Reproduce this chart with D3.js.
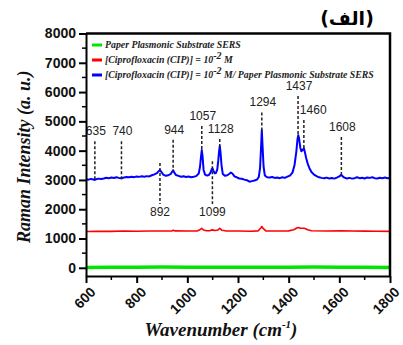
<!DOCTYPE html>
<html>
<head>
<meta charset="utf-8">
<script src="https://cdn.jsdelivr.net/npm/d3@7"></script>
<style>
  body { margin: 0; background: #fff; }
  svg { display: block; }
</style>
</head>
<body>
<div id="chart"></div>
<script>
// series: [wavenumber, intensity]
const paperSers = [
  [600, 10], [700, 15], [800, 20], [900, 25], [1000, 20], [1100, 15], [1200, 18],
  [1300, 20], [1400, 22], [1500, 28], [1600, 20], [1700, 15], [1800, 12]
];

const cipOnly = [
  [600, 1240], [650, 1250], [700, 1245], [750, 1255], [800, 1250], [850, 1255], [900, 1258],
  [940, 1262], [944, 1285], [950, 1260], [1000, 1255], [1040, 1262], [1050, 1300], [1057, 1345],
  [1064, 1290], [1075, 1265], [1090, 1270], [1099, 1295], [1108, 1275], [1120, 1290], [1128, 1345],
  [1136, 1285], [1150, 1262], [1200, 1255], [1250, 1250], [1280, 1262], [1290, 1360], [1294, 1410],
  [1298, 1355], [1310, 1262], [1350, 1255], [1400, 1260], [1420, 1300], [1432, 1360], [1438, 1375],
  [1446, 1350], [1455, 1352], [1462, 1350], [1475, 1300], [1490, 1265], [1550, 1255], [1608, 1262],
  [1650, 1255], [1700, 1252], [1750, 1248], [1800, 1245]
];

const cipOnSers = [
  [600, 3020], [610, 3010], [620, 3035], [630, 3015], [635, 3000], [640, 3025], [650, 3045],
  [660, 3030], [670, 3050], [680, 3075], [690, 3060], [700, 3080], [710, 3065], [720, 3090],
  [730, 3070], [740, 3060], [750, 3085], [760, 3100], [770, 3090], [780, 3110], [790, 3095],
  [800, 3120], [810, 3105], [820, 3125], [830, 3110], [840, 3130], [850, 3120], [860, 3160],
  [870, 3190], [880, 3230], [886, 3290], [892, 3340], [898, 3270], [905, 3180], [915, 3140],
  [925, 3160], [935, 3210], [940, 3280], [944, 3330], [948, 3260], [955, 3170], [965, 3140],
  [975, 3110], [985, 3125], [995, 3100], [1005, 3115], [1015, 3095], [1025, 3110], [1035, 3130],
  [1045, 3220], [1050, 3450], [1054, 3800], [1057, 4020], [1060, 3820], [1064, 3350], [1070, 3180],
  [1078, 3150], [1085, 3170], [1092, 3260], [1096, 3360], [1099, 3400], [1103, 3320], [1108, 3230],
  [1113, 3240], [1118, 3350], [1122, 3650], [1125, 3950], [1128, 4160], [1131, 3940], [1135, 3500],
  [1140, 3200], [1148, 3140], [1158, 3160], [1166, 3210], [1172, 3250], [1178, 3220], [1186, 3120],
  [1195, 3090], [1205, 3050], [1215, 3040], [1225, 3010], [1235, 2990], [1245, 2940], [1255, 2960],
  [1265, 2980], [1275, 3010], [1282, 3100], [1287, 3400], [1291, 4100], [1294, 4700], [1297, 4150],
  [1301, 3450], [1306, 3150], [1315, 3090], [1325, 3080], [1335, 3100], [1345, 3070], [1355, 3080],
  [1365, 3060], [1375, 3090], [1385, 3070], [1395, 3110], [1405, 3150], [1415, 3250], [1423, 3500],
  [1430, 3950], [1435, 4400], [1438, 4530], [1441, 4420], [1446, 4100], [1450, 3980], [1455, 4020],
  [1460, 4080], [1464, 3950], [1469, 3750], [1475, 3560], [1482, 3400], [1490, 3270], [1500, 3180],
  [1510, 3130], [1520, 3090], [1530, 3070], [1540, 3055], [1550, 3080], [1560, 3050], [1570, 3065],
  [1580, 3045], [1590, 3080], [1600, 3120], [1605, 3160], [1608, 3170], [1612, 3130], [1620, 3080],
  [1630, 3050], [1640, 3070], [1650, 3045], [1660, 3060], [1670, 3090], [1680, 3060], [1690, 3075],
  [1700, 3050], [1710, 3085], [1720, 3070], [1730, 3090], [1740, 3060], [1750, 3050], [1760, 3075],
  [1770, 3060], [1780, 3080], [1790, 3060], [1800, 3070]
];

// peak annotations
const peaksAbove = [635, 740, 944, 1057, 1128, 1294, 1437, 1460, 1608];
const peaksAboveLevel = [4530, 4530, 4580, 5050, 4600, 5510, 6070, 5250, 4670]; // label baseline, a.u.
const peaksBelow = [892, 1099];

const xTicks = [600, 800, 1000, 1200, 1400, 1600, 1800];
const yTicks = [0, 1000, 2000, 3000, 4000, 5000, 6000, 7000, 8000];

const legendLabels = [
  ["Paper Plasmonic Substrate SERS"],
  ["[Ciprofloxacin (CIP)] = 10", "-2", " M"],
  ["[Ciprofloxacin (CIP)] = 10", "-2", " M/ Paper Plasmonic Substrate SERS"]
];
const seriesColors = ["#00e600", "#ff0000", "#0000ff"];

const width = 403, height = 345;
const margin = { top: 33.5, right: 13, bottom: 69, left: 86 };

const svg = d3.select("#chart").append("svg")
  .attr("width", width)
  .attr("height", height);

const x = d3.scaleLinear().domain([600, 1800]).range([margin.left, width - margin.right]);
const y = d3.scaleLinear().domain([-280, 8000]).range([height - margin.bottom, margin.top]);

const tickFont = "'Liberation Sans', Arial, sans-serif";
const serifFont = "'Liberation Serif', 'Times New Roman', serif";

// series
const line = d3.line().x(d => x(d[0])).y(d => y(d[1]));
const series = [paperSers, cipOnly, cipOnSers];
const widths = [3.5, 1.6, 2];
series.forEach((s, i) => {
  svg.append("path")
    .datum(s)
    .attr("fill", "none")
    .attr("stroke", seriesColors[i])
    .attr("stroke-width", widths[i])
    .attr("stroke-linejoin", "round")
    .attr("d", line);
});

// value of blue curve at a wavenumber
function blueAt(wn) {
  const i = d3.bisector(d => d[0]).left(cipOnSers, wn);
  const a = cipOnSers[Math.max(0, i - 1)], b = cipOnSers[Math.min(cipOnSers.length - 1, i)];
  if (a[0] === b[0]) return a[1];
  return a[1] + (b[1] - a[1]) * (wn - a[0]) / (b[0] - a[0]);
}

// dashed markers, labels above
const ann = svg.append("g").attr("font-family", tickFont).attr("font-size", 12).attr("fill", "#222");
peaksAbove.forEach((wn, i) => {
  const ly = y(peaksAboveLevel[i]);
  ann.append("line")
    .attr("x1", x(wn)).attr("x2", x(wn))
    .attr("y1", ly + 6).attr("y2", y(blueAt(wn)) + 1)
    .attr("stroke", "#222").attr("stroke-width", 1.5)
    .attr("stroke-dasharray", "3,2");
  const right = wn === 1460;
  ann.append("text")
    .attr("x", right ? x(wn) - 4 : x(wn) + 1)
    .attr("y", ly)
    .attr("text-anchor", right ? "start" : "middle")
    .text(wn);
});
peaksBelow.forEach(wn => {
  ann.append("line")
    .attr("x1", x(wn)).attr("x2", x(wn))
    .attr("y1", y(blueAt(wn)) - 7).attr("y2", 204)
    .attr("stroke", "#222").attr("stroke-width", 1.5)
    .attr("stroke-dasharray", "3,2");
  ann.append("text")
    .attr("x", x(wn)).attr("y", 216)
    .attr("text-anchor", "middle")
    .text(wn);
});

// frame: top and right
svg.append("path")
  .attr("d", `M${x(600)},${y(8000)}H${x(1800)}V${y(-280)}`)
  .attr("fill", "none").attr("stroke", "#000").attr("stroke-width", 2.5);

// axes
const yAxis = svg.append("g")
  .attr("transform", `translate(${margin.left},0)`)
  .call(d3.axisLeft(y).tickValues(yTicks).tickFormat(d3.format("d"))
    .tickSize(7).tickPadding(3).tickSizeOuter(0));
yAxis.select(".domain").attr("stroke-width", 2);
yAxis.selectAll(".tick line").attr("stroke-width", 2);
yAxis.selectAll(".tick text")
  .attr("font-family", tickFont).attr("font-size", 14).attr("font-weight", "bold").attr("fill", "#111");
yAxis.selectAll(".minor").data(d3.range(500, 8000, 1000)).enter()
  .append("line").attr("class", "minor")
  .attr("x1", -4).attr("x2", 0).attr("y1", d => y(d)).attr("y2", d => y(d))
  .attr("stroke", "#000").attr("stroke-width", 1.5);

const xAxis = svg.append("g")
  .attr("transform", `translate(0,${height - margin.bottom})`)
  .call(d3.axisBottom(x).tickValues(xTicks).tickFormat(d3.format("d"))
    .tickSize(7).tickSizeOuter(0));
xAxis.select(".domain").attr("stroke-width", 2);
xAxis.selectAll(".tick line").attr("stroke-width", 2);
xAxis.selectAll(".tick text")
  .attr("font-family", tickFont).attr("font-size", 14).attr("font-weight", "bold").attr("fill", "#111")
  .attr("text-anchor", "end")
  .attr("transform", "translate(10,17) rotate(-45)")
  .attr("dy", 0).attr("y", 0);
xAxis.selectAll(".minor").data(d3.range(700, 1800, 200)).enter()
  .append("line").attr("class", "minor")
  .attr("y1", 0).attr("y2", 4).attr("x1", d => x(d)).attr("x2", d => x(d))
  .attr("stroke", "#000").attr("stroke-width", 1.5);

// axis titles
svg.append("text")
  .attr("transform", `translate(30,${(y(8000) + y(-280)) / 2 + 2}) rotate(-90)`)
  .attr("text-anchor", "middle")
  .attr("font-family", serifFont).attr("font-size", 18)
  .attr("font-weight", "bold").attr("font-style", "italic").attr("fill", "#111")
  .text("Raman Intensity (a. u.)");

const xt = svg.append("text")
  .attr("x", 221).attr("y", 336)
  .attr("text-anchor", "middle")
  .attr("font-family", serifFont).attr("font-size", 19)
  .attr("font-weight", "bold").attr("font-style", "italic").attr("fill", "#111");
xt.append("tspan").text("Wavenumber (cm");
xt.append("tspan").attr("font-size", 11).attr("dy", -8).text("-1");
xt.append("tspan").attr("dy", 8).text(")");

// title
svg.append("text")
  .attr("x", 347).attr("y", 25)
  .attr("text-anchor", "middle")
  .attr("font-family", "'DejaVu Sans', sans-serif").attr("font-size", 19).attr("font-weight", "bold")
  .text("(الف)");

// legend
const legend = svg.append("g").attr("transform", "translate(92,45)");
legendLabels.forEach((parts, i) => {
  const g = legend.append("g").attr("transform", `translate(0,${i * 15})`);
  g.append("line").attr("x1", 0).attr("x2", 10).attr("y1", 0).attr("y2", 0)
    .attr("stroke", seriesColors[i]).attr("stroke-width", 3);
  const t = g.append("text")
    .attr("x", 13).attr("y", 3)
    .attr("font-family", serifFont).attr("font-size", 9.8)
    .attr("font-weight", "bold").attr("font-style", "italic").attr("fill", "#222");
  t.append("tspan").text(parts[0]);
  if (parts.length > 1) {
    t.append("tspan").attr("dy", -4).attr("font-size", 10).text(parts[1]);
    t.append("tspan").attr("dy", 4).text(parts[2]);
  }
});
</script>
</body>
</html>
